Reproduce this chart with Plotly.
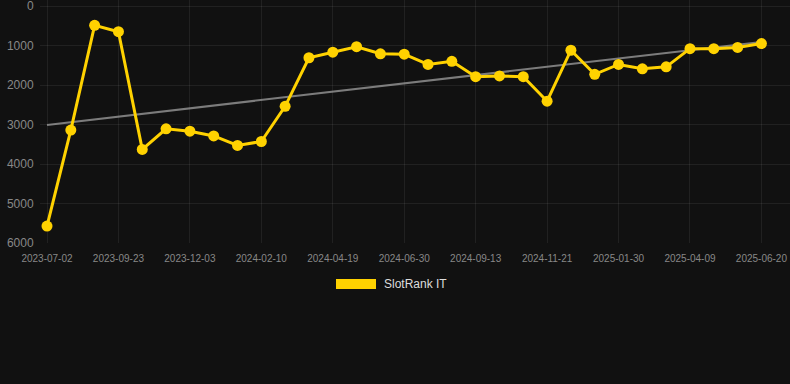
import numpy as np
import plotly.graph_objects as go

dates = ["2023-07-02", "2023-07-30", "2023-08-27", "2023-09-23", "2023-10-21", "2023-11-11",
         "2023-12-03", "2023-12-29", "2024-01-20", "2024-02-10", "2024-03-08", "2024-03-29",
         "2024-04-19", "2024-05-17", "2024-06-07", "2024-06-30", "2024-07-26", "2024-08-18",
         "2024-09-13", "2024-10-08", "2024-10-30", "2024-11-21", "2024-12-17", "2025-01-08",
         "2025-01-30", "2025-02-24", "2025-03-17", "2025-04-09", "2025-05-02", "2025-05-28",
         "2025-06-20"]
ranks = [5570, 3140, 490, 650, 3630, 3110, 3170, 3290, 3530, 3430, 2540, 1310, 1170, 1030,
         1210, 1220, 1480, 1400, 1790, 1770, 1790, 2410, 1120, 1730, 1480, 1590, 1540, 1080,
         1080, 1050, 950]
tick_labels = dates[::3]
y_ticks = [0, 1000, 2000, 3000, 4000, 5000, 6000]

idx = np.arange(len(ranks))
slope, intercept = np.polyfit(idx, ranks, 1)
trend = (slope * idx + intercept).tolist()

gold = "rgb(255,210,0)"
fig = go.Figure()
fig.add_trace(go.Scatter(x=dates, y=trend, mode="lines",
                         line=dict(color="rgba(160,160,160,0.75)", width=2),
                         showlegend=False, hoverinfo="skip"))
fig.add_trace(go.Scatter(x=dates, y=ranks, mode="lines+markers", name="SlotRank IT",
                         line=dict(color=gold, width=3),
                         marker=dict(color=gold, size=11), showlegend=False))

grid = "rgba(255,255,255,0.07)"
tick_font = dict(family="Liberation Sans, Arial", size=12, color="#888888")
T, B, L, R = 0, 141, 40, 0
fig.update_layout(
    width=790, height=384,
    margin=dict(l=L, r=R, t=T, b=B),
    paper_bgcolor="#111111", plot_bgcolor="#111111",
    xaxis=dict(type="category", categoryorder="array", categoryarray=dates,
               range=[-0.294, 31.2], tickvals=tick_labels, ticktext=tick_labels,
               showgrid=True, gridcolor=grid, zeroline=False, showline=False,
               tickfont=dict(family="Liberation Sans, Arial", size=10, color="#888888"),
               ticks="outside", ticklen=6, tickcolor="rgba(0,0,0,0)"),
    yaxis=dict(range=[6000, -152], tickvals=y_ticks,
               ticktext=[""] + [str(v) for v in y_ticks[1:]],
               showgrid=True, gridcolor=grid, zeroline=False, showline=False,
               tickfont=tick_font,
               ticks="outside", ticklen=3, tickcolor="rgba(0,0,0,0)"),
    showlegend=False,
)
# top tick label (Plotly hides it at the figure edge)
fig.add_annotation(xref="paper", yref="y", x=0, y=y_ticks[0], text=str(y_ticks[0]),
                   showarrow=False, xanchor="right", yanchor="middle", xshift=-4,
                   font=tick_font)
ph = 384 - T - B
pw = 790 - L - R
fig.add_shape(type="rect", xref="paper", yref="paper",
              x0=(336 - L) / pw, x1=(376 - L) / pw,
              y0=(384 - B - 289) / ph, y1=(384 - B - 279) / ph,
              fillcolor=gold, line=dict(width=0))
fig.add_annotation(xref="paper", yref="paper", x=(382 - L) / pw, y=(384 - B - 284) / ph,
                   text="SlotRank IT", showarrow=False, xanchor="left", yanchor="middle",
                   font=dict(family="Liberation Sans, Arial", size=12, color="#dddddd"))
fig.write_html("out.html", config={"displayModeBar": False},
               post_script="document.body.style.margin='0';document.body.style.background='#111111';document.body.style.overflow='hidden';")
